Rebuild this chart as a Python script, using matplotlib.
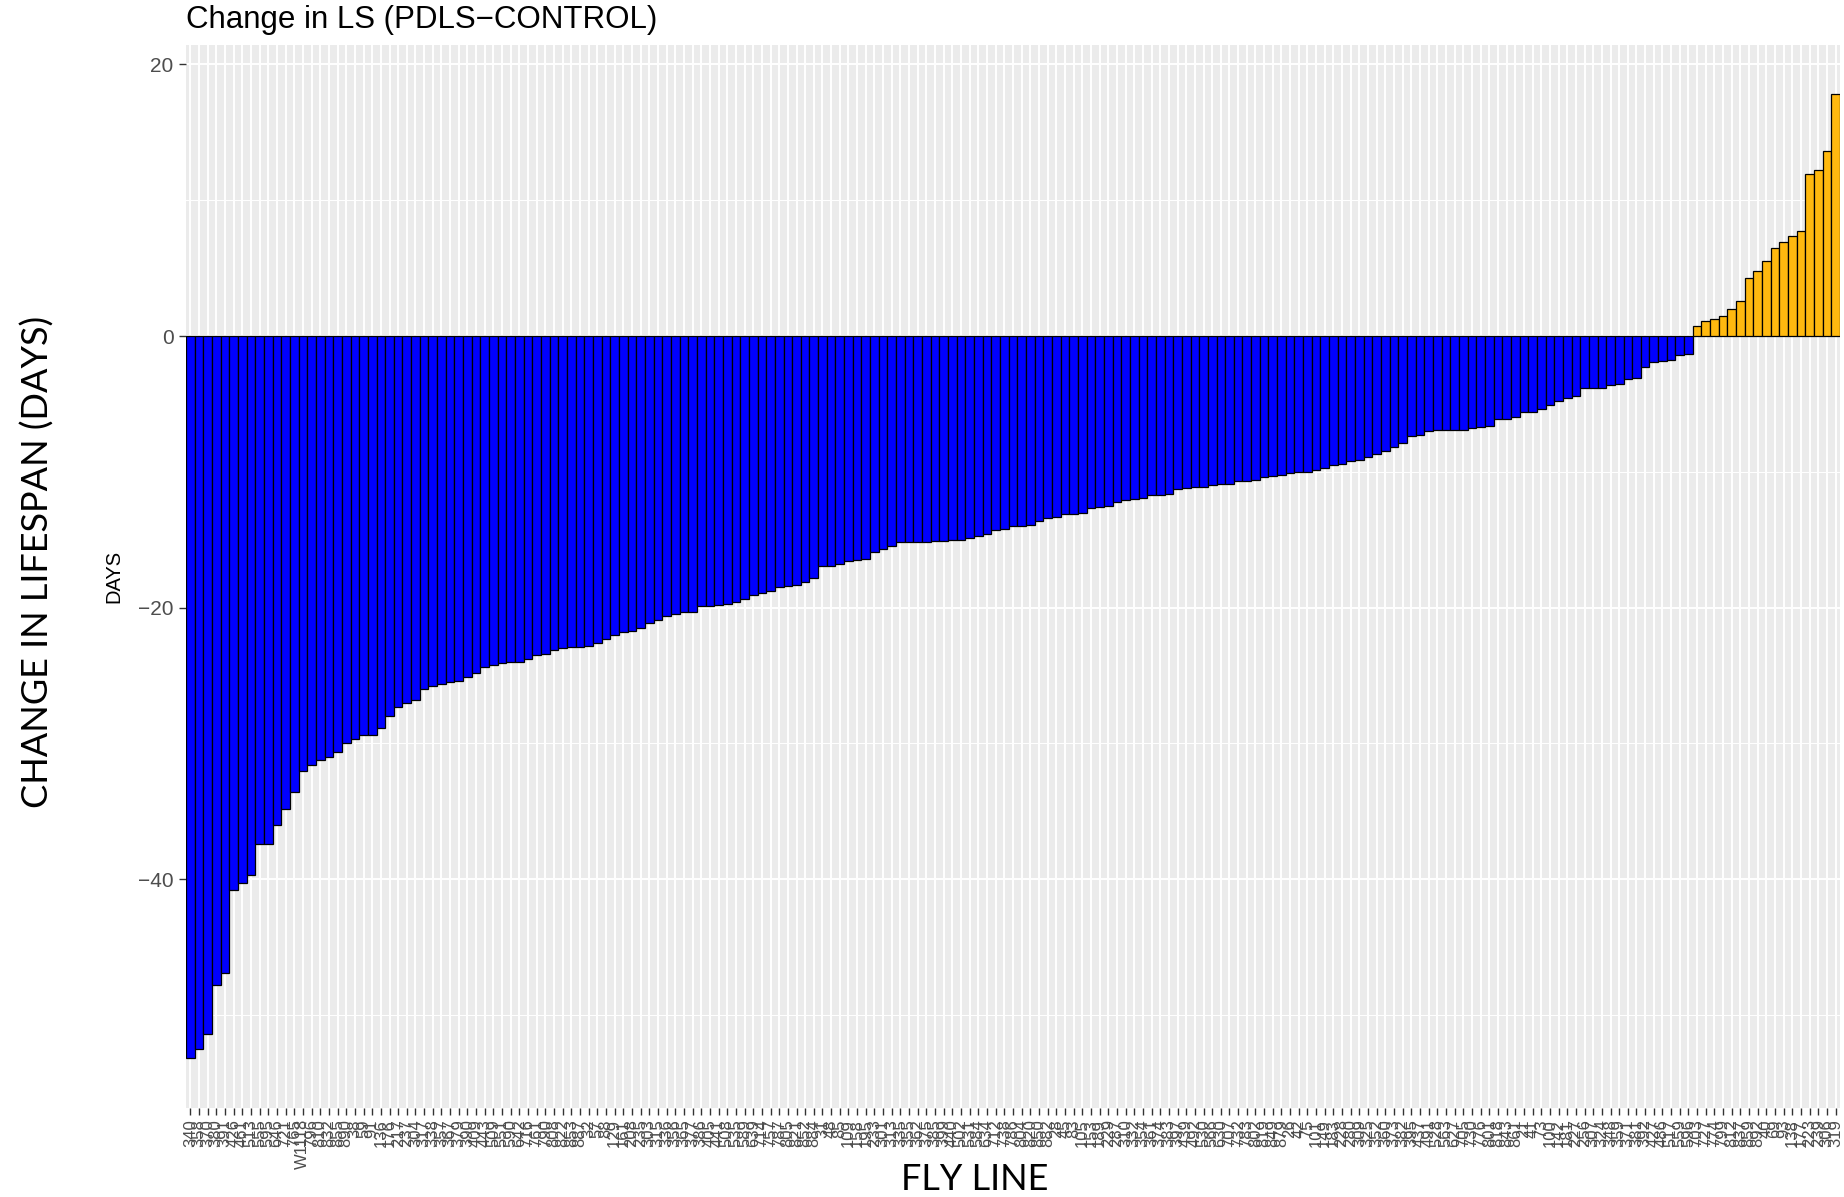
import matplotlib
matplotlib.use("Agg")
import matplotlib.pyplot as plt
import numpy as np

# ---------------- data ----------------
fly_lines = [
    "340", "358", "370", "380", "391", "426", "461", "513", "555", "595", "646", "721", "765", "W1118",
    "796", "810", "832", "855", "890", "38", "59", "91", "136", "176", "217", "237", "304", "317",
    "338", "357", "367", "379", "390", "409", "443", "509", "551", "590", "642", "716", "761", "790",
    "808", "822", "853", "887", "32", "57", "88", "129", "161", "208", "235", "303", "315", "336",
    "356", "365", "377", "386", "405", "441", "508", "535", "589", "639", "714", "757", "787", "805",
    "821", "852", "884", "31", "48", "85", "109", "158", "195", "233", "301", "313", "335", "355",
    "362", "375", "385", "399", "440", "502", "531", "584", "634", "712", "738", "786", "804", "820",
    "850", "882", "28", "45", "83", "105", "153", "189", "229", "287", "310", "332", "354", "361",
    "374", "383", "397", "439", "492", "530", "566", "630", "707", "732", "783", "802", "819", "849",
    "879", "26", "42", "75", "101", "149", "183", "228", "280", "309", "325", "352", "360", "373",
    "382", "395", "437", "491", "528", "563", "627", "705", "730", "776", "801", "818", "843", "861",
    "21", "41", "73", "100", "142", "181", "227", "256", "307", "324", "348", "359", "371", "381",
    "392", "427", "486", "517", "559", "596", "703", "727", "774", "799", "812", "837", "859", "892",
    "40", "69", "93", "138", "177", "223", "239", "306", "319",
]

change_days = [
    -53.2, -52.5, -51.4, -47.8, -46.9, -40.8, -40.3, -39.7, -37.4, -37.4,
    -36.0, -34.8, -33.6, -32.0, -31.6, -31.2, -31.0, -30.6, -30.0, -29.7,
    -29.4, -29.4, -28.9, -28.0, -27.3, -27.0, -26.8, -26.0, -25.8, -25.6,
    -25.5, -25.4, -25.1, -24.8, -24.4, -24.2, -24.1, -24.0, -24.0, -23.8,
    -23.5, -23.4, -23.1, -23.0, -22.9, -22.9, -22.8, -22.6, -22.3, -22.0,
    -21.8, -21.7, -21.5, -21.1, -20.9, -20.6, -20.5, -20.3, -20.3, -19.9,
    -19.9, -19.8, -19.7, -19.6, -19.4, -19.1, -18.9, -18.8, -18.5, -18.4,
    -18.3, -18.1, -17.8, -16.9, -16.9, -16.8, -16.6, -16.5, -16.4, -15.9,
    -15.7, -15.5, -15.2, -15.2, -15.2, -15.2, -15.1, -15.1, -15.0, -15.0,
    -14.9, -14.7, -14.6, -14.3, -14.2, -14.0, -14.0, -13.9, -13.6, -13.4,
    -13.3, -13.1, -13.1, -13.0, -12.7, -12.6, -12.5, -12.2, -12.1, -12.0,
    -11.9, -11.7, -11.7, -11.6, -11.3, -11.2, -11.1, -11.1, -11.0, -10.9,
    -10.9, -10.7, -10.7, -10.6, -10.4, -10.3, -10.2, -10.1, -10.0, -10.0,
    -9.9, -9.7, -9.5, -9.4, -9.2, -9.1, -8.9, -8.7, -8.5, -8.2,
    -7.9, -7.4, -7.3, -7.0, -6.9, -6.9, -6.9, -6.9, -6.8, -6.7,
    -6.6, -6.1, -6.1, -6.0, -5.6, -5.6, -5.4, -5.1, -4.8, -4.6,
    -4.4, -3.8, -3.8, -3.8, -3.6, -3.5, -3.2, -3.1, -2.3, -1.91,
    -1.86, -1.79, -1.42, -1.35,
    0.74, 1.13, 1.28, 1.47, 1.97, 2.58, 4.3, 4.8, 5.5, 6.5,
    6.9, 7.4, 7.7, 11.9, 12.2, 13.6, 17.8,
]

title_text = "Change in LS (PDLS\u2212CONTROL)"
y_ticks = [20, 0, -20, -40]
y_minor = [10, -10, -30, -50]

# ---------------- figure ----------------
W, H = 1844, 1197
fig = plt.figure(figsize=(W / 100, H / 100), dpi=100)
fig.patch.set_facecolor("white")

left, right, top, bottom = 186, 1840, 45, 1108
ax = fig.add_axes([left / W, 1 - bottom / H, (right - left) / W, (bottom - top) / H])
ax.set_facecolor("#EBEBEB")

colors = ["#FFB90F" if v > 0 else "#0000FF" for v in change_days]
ax.bar(fly_lines, change_days, width=1.0, color=colors, edgecolor="black",
       linewidth=0.9, zorder=3)

ax.set_xlim(-0.5, len(fly_lines) - 0.5)
ax.set_ylim(-56.85, 21.43)

ax.set_yticks(y_ticks)
ax.set_yticklabels([f"{t}".replace("-", "\u2212") for t in y_ticks])
ax.set_yticks(y_minor, minor=True)

ax.grid(True, which="major", color="white", linewidth=1.4, zorder=1)
ax.grid(True, which="minor", axis="y", color="white", linewidth=0.7, zorder=1)
ax.set_axisbelow(True)

for s in ax.spines.values():
    s.set_visible(False)

ax.tick_params(axis="y", which="major", length=5, width=1.0, color="#333333",
               labelsize=15, labelcolor="#4D4D4D", pad=4)
ax.tick_params(axis="y", which="minor", length=0)
ax.tick_params(axis="x", which="major", length=5, width=1.0, color="#333333",
               labelsize=12, labelcolor="#4D4D4D", pad=3)
for lab in ax.get_xticklabels():
    lab.set_rotation(90)
    lab.set_ha("center")
    lab.set_va("top")
    lab.set_fontfamily("Liberation Sans")
for lab in ax.get_yticklabels():
    lab.set_fontfamily("Liberation Sans")

# title and labels
fig.text(186 / W, 1 - 28 / H, title_text, fontsize=22.5, family="Liberation Sans",
         ha="left", va="baseline", color="black")
fig.text(114 / W, 1 - 576 / H, "DAYS", fontsize=14.5, family="Liberation Sans",
         rotation=90, ha="center", va="center", color="black")
fig.text(38 / W, 1 - 562 / H, "CHANGE IN LIFESPAN (DAYS)", fontsize=26,
         family="Lato", rotation=90, ha="center", va="center", color="black")
fig.text(975 / W, 1 - 1180 / H, "FLY LINE", fontsize=26, family="Lato",
         ha="center", va="center", color="black")

fig.savefig("out.png", dpi=100, facecolor="white")
